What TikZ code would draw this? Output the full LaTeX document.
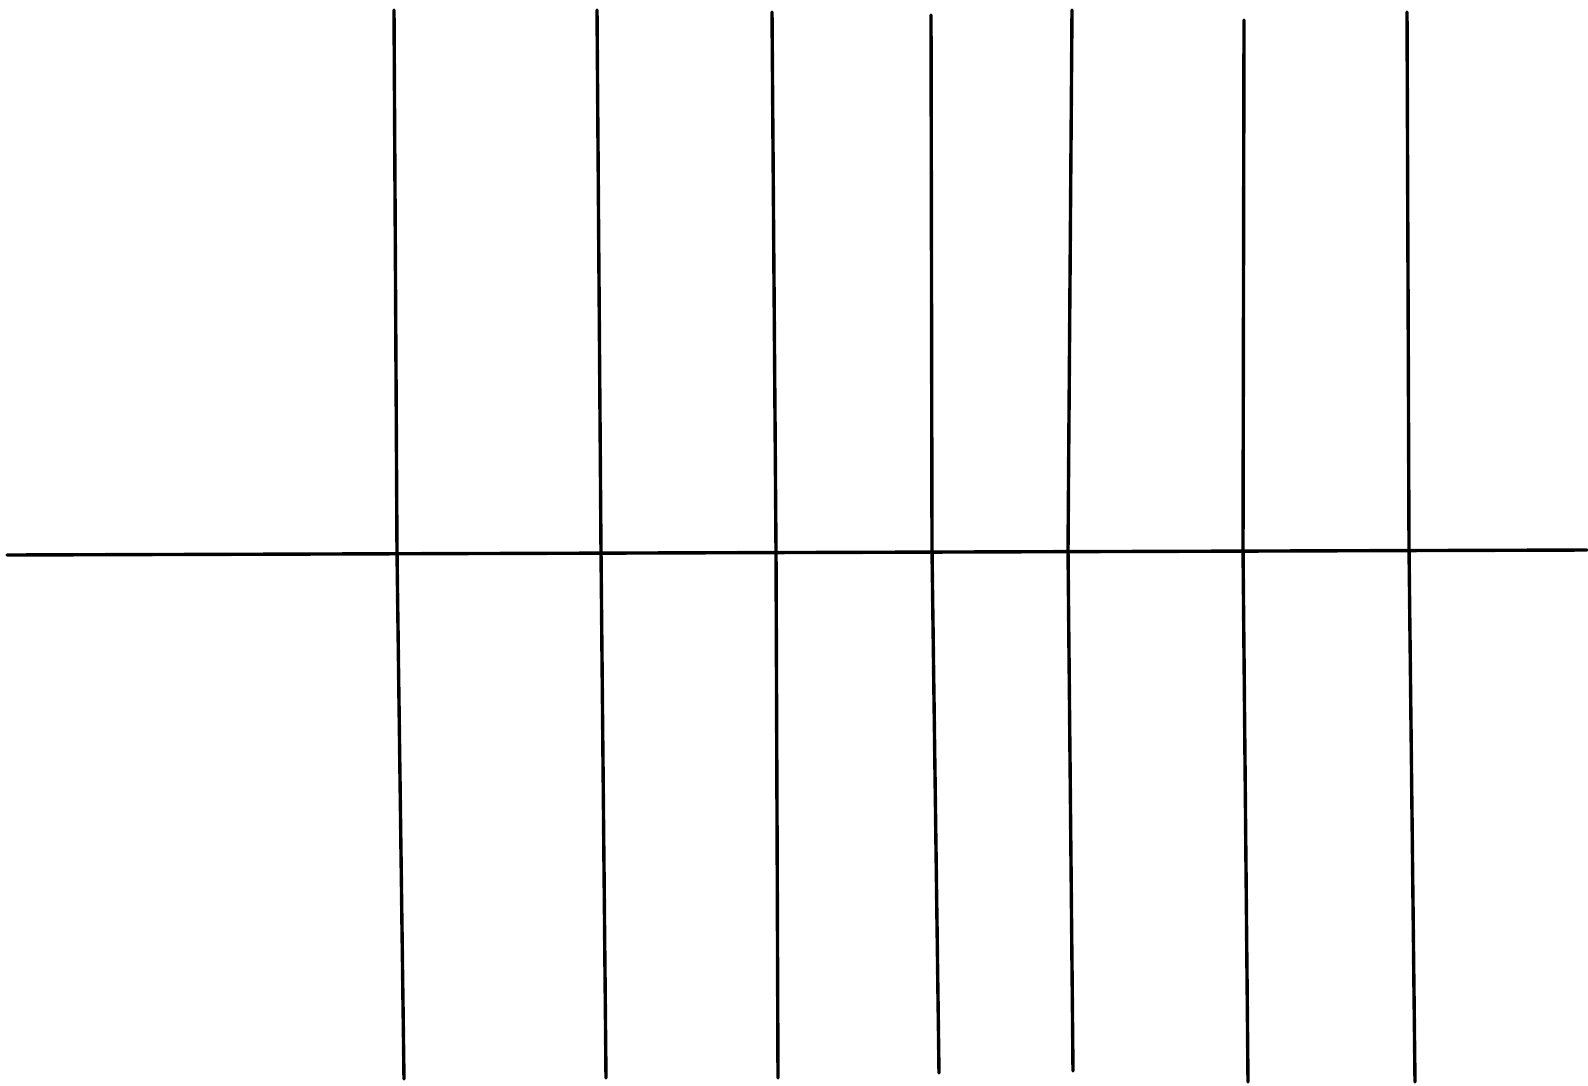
\documentclass[tikz,border=0pt]{standalone}
\begin{document}
\begin{tikzpicture}[x=1pt,y=-1pt,
  ink/.style={draw=black,line width=3.4pt,line cap=round,line join=round}]
\useasboundingbox (0,0) rectangle (1588,1085);
\fill[white] (0,0) rectangle (1588,1085);
% horizontal axis
\coordinate (hl) at (7,555);
\coordinate (hr) at (1587,550);
\draw[ink] (hl) -- (hr);
% vertical lines: top, crossing, bottom
\foreach \i/\xt/\yt/\xm/\ym/\xb/\yb in {
  1/394/10/397/552/404/1079,
  2/597/10/601/552/606/1078,
  3/772/12/776/551/778/1078,
  4/931/15/932/550/939/1073,
  5/1072/10/1068/550/1073/1071,
  6/1244/20/1243/548/1248/1082,
  7/1407/12/1409/548/1415/1082}{
  \coordinate (t\i) at (\xt,\yt);
  \coordinate (m\i) at (\xm,\ym);
  \coordinate (b\i) at (\xb,\yb);
  \draw[ink] (t\i) -- (m\i) -- (b\i);
}
\end{tikzpicture}
\end{document}
